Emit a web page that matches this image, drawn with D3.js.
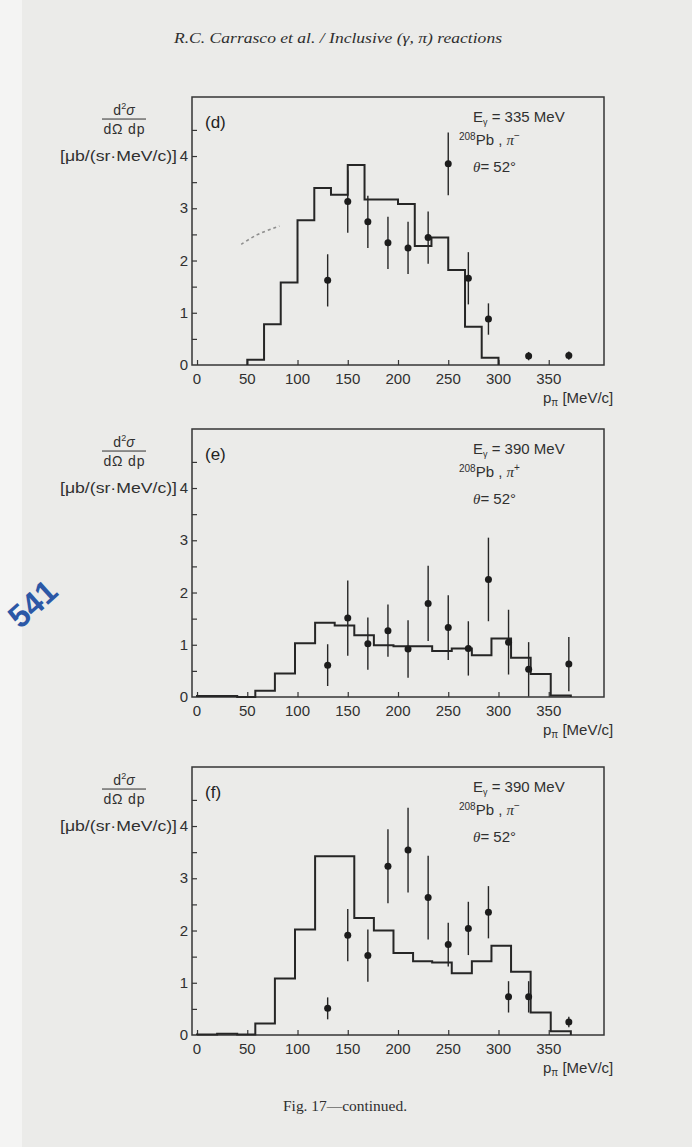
<!DOCTYPE html>
<html>
<head>
<meta charset="utf-8">
<script src="https://cdn.jsdelivr.net/npm/d3@7"></script>
<style>
  html, body { margin: 0; padding: 0; background: #f6f6f5; }
  svg { display: block; }
</style>
</head>
<body>
<svg id="page" width="692" height="1147"></svg>
<script>
// ---- data ----------------------------------------------------------
// Panel (d): E_γ = 335 MeV, 208Pb, π−
const histEdgesD = [50, 66.7, 83.3, 100, 116.7, 133.3, 150, 166.7, 183.3, 200, 216.7, 233.3, 250, 266.7, 283.3, 300];
const histValuesD = [0.10, 0.78, 1.58, 2.77, 3.39, 3.26, 3.83, 3.17, 3.17, 3.08, 2.28, 2.44, 1.82, 0.73, 0.14];
const momentaD = [130, 150, 170, 190, 210, 230, 250, 270, 290, 330, 370];
const crossD   = [1.62, 3.13, 2.74, 2.34, 2.24, 2.44, 3.85, 1.66, 0.88, 0.17, 0.18];
const errorD   = [0.50, 0.60, 0.50, 0.50, 0.50, 0.50, 0.60, 0.50, 0.30, 0.08, 0.08];
// faint pen stroke inside panel (d)
const penStrokeP = [44, 52, 60, 68, 76, 82];
const penStrokeV = [2.31, 2.41, 2.50, 2.56, 2.62, 2.66];

// Panel (e): E_γ = 390 MeV, 208Pb, π+
const histEdgesE = [0, 40, 58, 77.5, 97.5, 117.5, 137, 156.5, 176, 195.5, 215, 234, 253.5, 273.5, 293, 312.5, 332, 352, 372];
const histValuesE = [0.02, 0, 0.12, 0.45, 1.03, 1.42, 1.37, 1.18, 0.99, 0.97, 0.97, 0.88, 0.93, 0.80, 1.12, 0.75, 0.44, 0.03];
const momentaE = [130, 150, 170, 190, 210, 230, 250, 270, 290, 310, 330, 370];
const crossE   = [0.61, 1.51, 1.02, 1.27, 0.92, 1.79, 1.33, 0.93, 2.25, 1.05, 0.53, 0.63];
const errorE   = [0.40, 0.72, 0.50, 0.50, 0.55, 0.72, 0.62, 0.52, 0.80, 0.62, 0.52, 0.52];

// Panel (f): E_γ = 390 MeV, 208Pb, π−
const histEdgesF = [0, 20, 40, 58, 77.5, 97.5, 117.5, 137, 156.5, 176, 195.5, 215, 234, 253.5, 273.5, 293, 312.5, 332, 352, 372];
const histValuesF = [0.01, 0.025, 0.01, 0.22, 1.08, 2.02, 3.42, 3.42, 2.24, 2.00, 1.57, 1.41, 1.39, 1.18, 1.41, 1.71, 1.21, 0.43, 0.07];
const momentaF = [130, 150, 170, 190, 210, 230, 250, 270, 290, 310, 330, 370];
const crossF   = [0.51, 1.91, 1.52, 3.23, 3.54, 2.63, 1.73, 2.04, 2.35, 0.73, 0.73, 0.25];
const errorF   = [0.21, 0.50, 0.50, 0.71, 0.81, 0.80, 0.42, 0.51, 0.50, 0.30, 0.30, 0.10];

// axis ticks
const xTickValues = [0, 50, 100, 150, 200, 250, 300, 350];
const yTickLabels = [0, 1, 2, 3, 4];
const yMinorTicks = [0.5, 1, 1.5, 2, 2.5, 3, 3.5, 4, 4.5];

// panel text
const panelLetters = ["(d)", "(e)", "(f)"];
const beamEnergies = ["335", "390", "390"];
const pionCharges  = ["−", "+", "−"];

// ---- layout --------------------------------------------------------
const INK = "#262626";
const TXT = "#303030";
const SANS = "'Liberation Sans', Arial, sans-serif";
const SERIF = "'Liberation Serif', 'Times New Roman', serif";
const frameLeft = 192, frameRight = 604;
const panelTops = [97, 429, 767];
const panelHeight = 268;

const svg = d3.select("#page");

// scanned page tone
svg.append("rect").attr("x", 0).attr("y", 0).attr("width", 692).attr("height", 1147).attr("fill", "#f4f4f3");
svg.append("rect").attr("x", 22).attr("y", 0).attr("width", 670).attr("height", 1147).attr("fill", "#ebebe9");

// running head
svg.append("text")
  .attr("x", 174).attr("y", 43)
  .attr("font-family", SERIF).attr("font-style", "italic").attr("font-size", 14)
  .attr("textLength", 328).attr("lengthAdjust", "spacingAndGlyphs")
  .attr("fill", "#2e2e2e")
  .text("R.C. Carrasco et al. / Inclusive (γ, π) reactions");

// caption
svg.append("text")
  .attr("x", 283).attr("y", 1111)
  .attr("font-family", SERIF).attr("font-size", 14)
  .attr("textLength", 124).attr("lengthAdjust", "spacingAndGlyphs")
  .attr("fill", "#2e2e2e")
  .text("Fig. 17—continued.");

// page number stamp
svg.append("text")
  .attr("transform", "translate(40,612) rotate(-42)")
  .attr("text-anchor", "middle")
  .attr("font-family", SANS).attr("font-weight", "bold").attr("font-size", 32)
  .attr("fill", "#2c58a6")
  .text("541");

const x = d3.scaleLinear().domain([-5, 405]).range([frameLeft, frameRight]);

const panels = [
  { edges: histEdgesD, heights: histValuesD, p: momentaD, v: crossD, e: errorD },
  { edges: histEdgesE, heights: histValuesE, p: momentaE, v: crossE, e: errorE },
  { edges: histEdgesF, heights: histValuesF, p: momentaF, v: crossF, e: errorF }
];

panels.forEach((pd, i) => {
  const top = panelTops[i];
  const bottom = top + panelHeight;
  const y = d3.scaleLinear().domain([0, 5.13]).range([bottom, top]);
  const g = svg.append("g");

  // frame
  g.append("rect")
    .attr("x", frameLeft).attr("y", top)
    .attr("width", frameRight - frameLeft).attr("height", panelHeight)
    .attr("fill", "none").attr("stroke", "#363636").attr("stroke-width", 1.5);

  // inward ticks on the left axis
  const yAxis = d3.axisRight(y).tickValues(yMinorTicks).tickSize(5).tickFormat("");
  const ya = g.append("g").attr("transform", `translate(${frameLeft},0)`).call(yAxis);
  ya.select(".domain").remove();
  ya.selectAll("line").attr("stroke", "#363636").attr("stroke-width", 1.2);

  // y tick labels
  g.selectAll(".ylab").data(yTickLabels).join("text")
    .attr("x", frameLeft - 4).attr("y", d => y(d) + 5)
    .attr("text-anchor", "end")
    .attr("font-family", SANS).attr("font-size", 15).attr("fill", TXT)
    .text(d => d);

  // inward ticks on the bottom axis
  const xAxis = d3.axisTop(x).tickValues(xTickValues).tickSize(5).tickFormat("");
  const xa = g.append("g").attr("transform", `translate(0,${bottom})`).call(xAxis);
  xa.select(".domain").remove();
  xa.selectAll("line").attr("stroke", "#363636").attr("stroke-width", 1.2);

  // x tick labels
  g.selectAll(".xlab").data(xTickValues).join("text")
    .attr("x", d => x(d)).attr("y", bottom + 19)
    .attr("text-anchor", "middle")
    .attr("font-family", SANS).attr("font-size", 15).attr("fill", TXT)
    .text(d => d);

  // x axis title: p_π [MeV/c]
  const xt = g.append("text")
    .attr("x", 543).attr("y", bottom + 38)
    .attr("font-family", SANS).attr("font-size", 15).attr("fill", TXT);
  xt.append("tspan").text("p");
  xt.append("tspan").attr("font-size", 10).attr("dy", 3).text("π");
  xt.append("tspan").attr("dy", -3).text(" [MeV/c]");

  // y axis title: d²σ / dΩ dp  [μb/(sr·MeV/c)]
  const y4 = y(4);
  const num = g.append("text")
    .attr("x", 124).attr("y", y4 - 41).attr("text-anchor", "middle")
    .attr("font-family", SANS).attr("font-size", 14).attr("fill", TXT);
  num.append("tspan").text("d");
  num.append("tspan").attr("font-size", 9).attr("dy", -6).text("2");
  num.append("tspan").attr("dy", 6).attr("font-style", "italic").text("σ");
  g.append("line")
    .attr("x1", 102).attr("x2", 146).attr("y1", y4 - 37).attr("y2", y4 - 37)
    .attr("stroke", TXT).attr("stroke-width", 1);
  g.append("text")
    .attr("x", 124).attr("y", y4 - 22).attr("text-anchor", "middle")
    .attr("font-family", SANS).attr("font-size", 14).attr("fill", TXT)
    .attr("textLength", 41).attr("lengthAdjust", "spacing")
    .text("dΩ dp");
  g.append("text")
    .attr("x", 60).attr("y", y4 + 5)
    .attr("font-family", SANS).attr("font-size", 14).attr("fill", TXT)
    .attr("textLength", 117).attr("lengthAdjust", "spacingAndGlyphs")
    .text("[μb/(sr·MeV/c)]");

  // panel letter
  g.append("text")
    .attr("x", 205).attr("y", top + 31)
    .attr("font-family", SANS).attr("font-size", 17).attr("fill", "#222")
    .text(panelLetters[i]);

  // reaction annotation
  const ann = g.append("text")
    .attr("x", 473).attr("y", top + 25)
    .attr("font-family", SANS).attr("font-size", 15).attr("fill", TXT);
  ann.append("tspan").text("E");
  ann.append("tspan").attr("font-size", 9).attr("dy", 3).text("γ");
  ann.append("tspan").attr("dy", -3).text(" = " + beamEnergies[i] + " MeV");

  const nuc = g.append("text")
    .attr("x", 459).attr("y", top + 48)
    .attr("font-family", SANS).attr("font-size", 15).attr("fill", TXT);
  nuc.append("tspan").attr("font-size", 10).attr("dy", -5).text("208");
  nuc.append("tspan").attr("dy", 5).text("Pb , ");
  nuc.append("tspan").attr("font-family", SERIF).attr("font-style", "italic").text("π");
  nuc.append("tspan").attr("font-size", 10).attr("dy", -6).text(pionCharges[i]);

  const th = g.append("text")
    .attr("x", 473).attr("y", top + 75)
    .attr("font-family", SANS).attr("font-size", 15).attr("fill", TXT);
  th.append("tspan").attr("font-family", SERIF).attr("font-style", "italic").text("θ");
  th.append("tspan").text("= 52°");

  // histogram (step line)
  const pts = [[pd.edges[0], 0]];
  pd.heights.forEach((h, k) => pts.push([pd.edges[k], h]));
  pts.push([pd.edges[pd.edges.length - 1], 0]);
  const step = d3.line().x(d => x(d[0])).y(d => y(d[1])).curve(d3.curveStepAfter);
  g.append("path")
    .attr("d", step(pts))
    .attr("fill", "none").attr("stroke", INK).attr("stroke-width", 2)
    .attr("stroke-linejoin", "miter");

  // data points with error bars
  const pts2 = pd.p.map((p, k) => ({ p, v: pd.v[k], e: pd.e[k] }));
  g.selectAll(".err").data(pts2).join("line")
    .attr("x1", d => x(d.p)).attr("x2", d => x(d.p))
    .attr("y1", d => y(d.v + d.e)).attr("y2", d => y(Math.max(0, d.v - d.e)))
    .attr("stroke", INK).attr("stroke-width", 1.4);
  g.selectAll(".dot").data(pts2).join("circle")
    .attr("cx", d => x(d.p)).attr("cy", d => y(d.v)).attr("r", 3.5)
    .attr("fill", "#1c1c1c");

  if (i === 0) {
    const pen = d3.line().x(d => x(d[0])).y(d => y(d[1])).curve(d3.curveBasis);
    g.append("path")
      .attr("d", pen(penStrokeP.map((p, k) => [p, penStrokeV[k]])))
      .attr("fill", "none").attr("stroke", "#666").attr("stroke-width", 1.6)
      .attr("stroke-dasharray", "3,3").attr("opacity", 0.7);
  }
});
</script>
</body>
</html>
